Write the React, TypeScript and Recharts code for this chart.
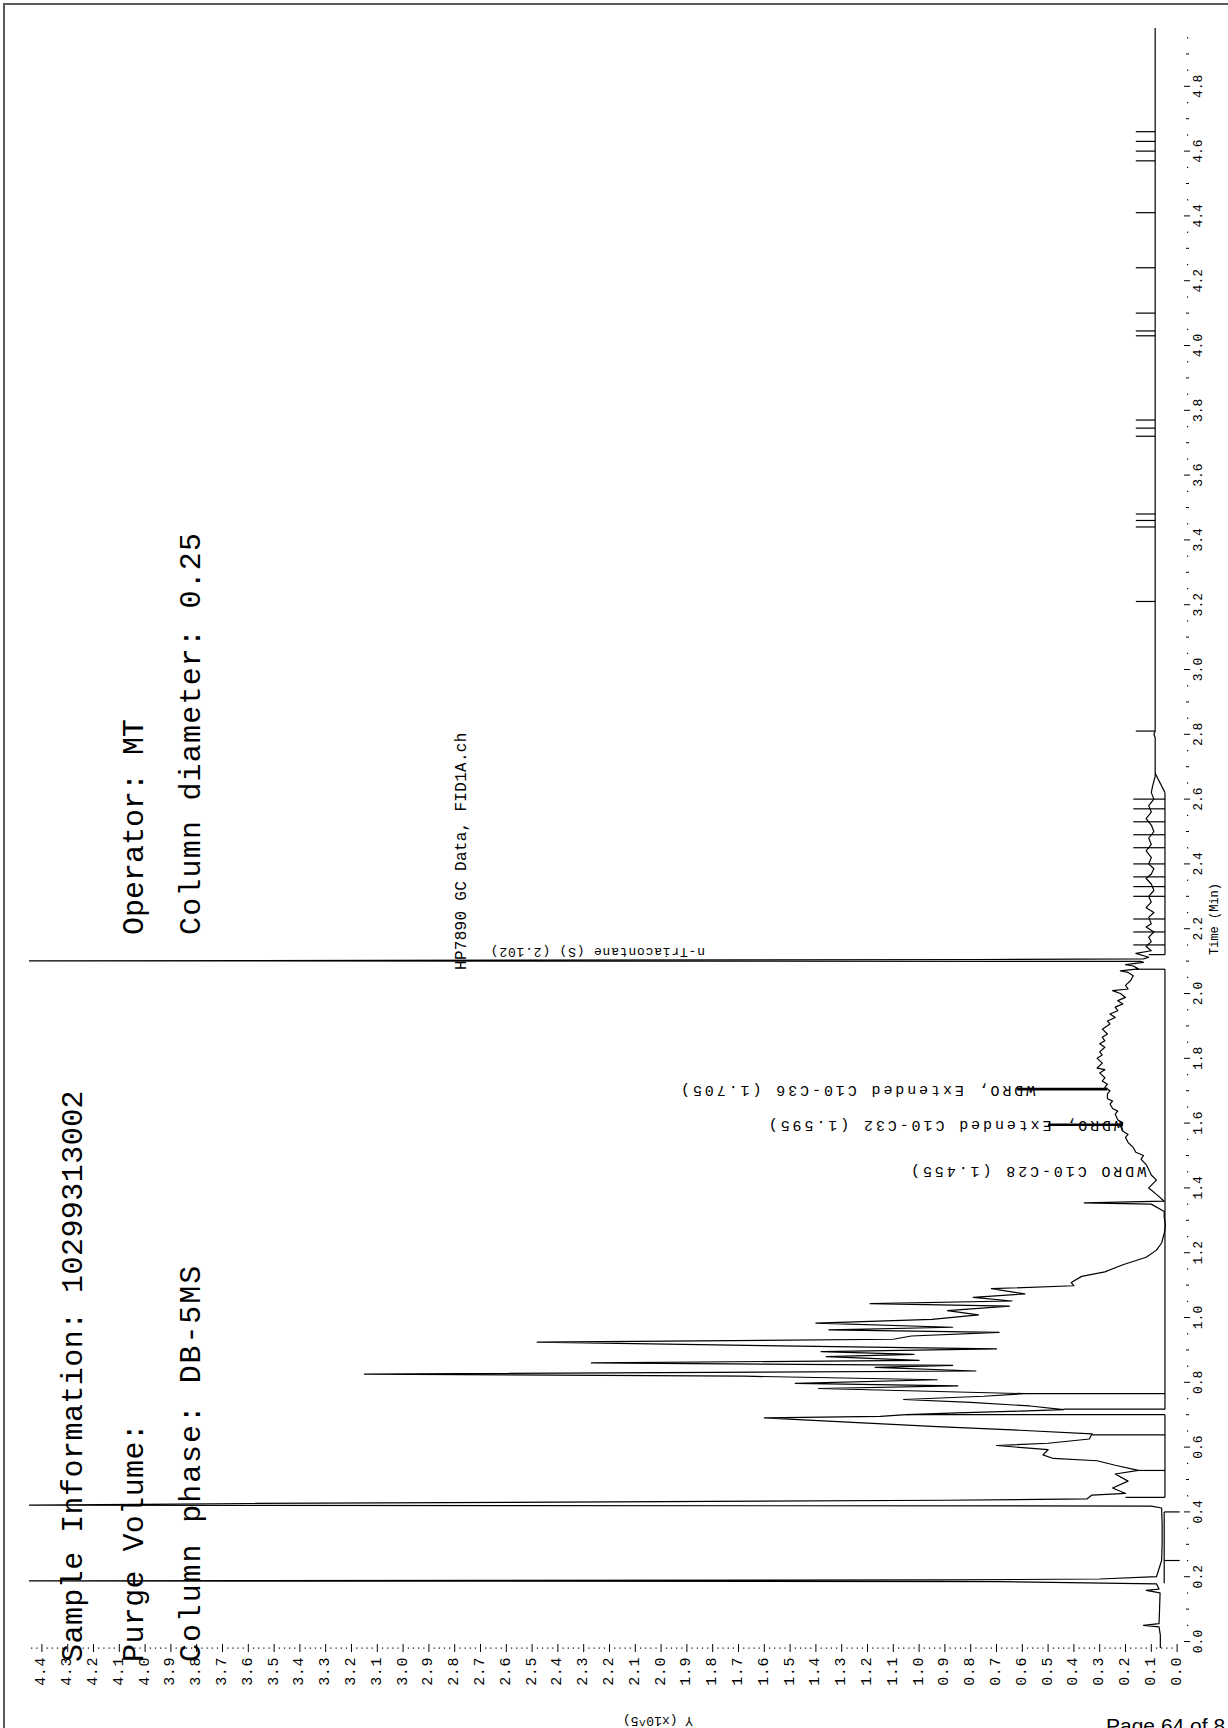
import React from 'react';
import { ScatterChart, Scatter, XAxis, YAxis, ReferenceLine, ReferenceDot } from 'recharts';

// [retention time (min), response (x10^5)], bottom to top
// off-scale peaks are given the top of the response range
const traceInjection: [number, number][] = [
  [-0.02, 0.065], [0.02, 0.065], [0.045, 0.07], [0.05, 0.13], [0.055, 0.07], [0.1, 0.068],
  [0.15, 0.066], [0.158, 0.12], [0.162, 0.07], [0.178, 0.08], [0.185, 0.7], [0.187, 4.5],
  [0.19, 0.9], [0.193, 0.3], [0.2, 0.08], [0.25, 0.06], [0.3, 0.058], [0.36, 0.058], [0.412, 0.06],
  [0.418, 0.1], [0.421, 4.5], [0.426, 3.6], [0.431, 2.2], [0.436, 0.9], [0.44, 0.35],
];

const traceEarlyCluster: [number, number][] = [
  [0.452, 0.33], [0.457, 0.2], [0.474, 0.25], [0.495, 0.19], [0.517, 0.24], [0.528, 0.15],
  [0.544, 0.24], [0.558, 0.31], [0.565, 0.48], [0.576, 0.52], [0.592, 0.5], [0.605, 0.7],
  [0.612, 0.5], [0.625, 0.34], [0.641, 0.33], [0.652, 0.61], [0.663, 0.93], [0.674, 1.2],
  [0.69, 1.6], [0.695, 1.15], [0.7, 1.05], [0.706, 0.85], [0.711, 0.61], [0.716, 0.44],
  [0.727, 0.57], [0.738, 0.8], [0.747, 1.06], [0.757, 0.75], [0.765, 0.59],
];

const traceMainCluster: [number, number][] = [
  [0.781, 1.39], [0.789, 0.85], [0.797, 1.48], [0.808, 0.93], [0.819, 1.68], [0.825, 3.15],
  [0.835, 0.78], [0.846, 1.17], [0.852, 0.87], [0.86, 2.27], [0.868, 1.0], [0.879, 1.36],
  [0.886, 1.02], [0.895, 1.38], [0.903, 0.7], [0.911, 1.4], [0.924, 2.48], [0.933, 1.1],
  [0.943, 1.03], [0.954, 0.69], [0.962, 1.35], [0.97, 0.87], [0.983, 1.4], [0.994, 0.95],
  [1.008, 0.77], [1.021, 0.89], [1.035, 0.65], [1.043, 1.19], [1.051, 0.64], [1.062, 0.79],
  [1.073, 0.59], [1.089, 0.72], [1.098, 0.4], [1.108, 0.41], [1.127, 0.37], [1.141, 0.28],
  [1.163, 0.21], [1.186, 0.12], [1.208, 0.08], [1.23, 0.06], [1.26, 0.05], [1.284, 0.045],
  [1.31, 0.05], [1.327, 0.05], [1.35, 0.1], [1.354, 0.36], [1.359, 0.05], [1.38, 0.08],
  [1.4, 0.11], [1.424, 0.08], [1.44, 0.1], [1.457, 0.11],
];

const traceHump: [number, number][] = [
  [1.472, 0.12], [1.489, 0.14], [1.5, 0.13], [1.51, 0.16], [1.525, 0.17], [1.54, 0.19],
  [1.556, 0.2], [1.565, 0.19], [1.575, 0.21], [1.592, 0.22], [1.6, 0.21], [1.61, 0.23],
  [1.628, 0.24], [1.637, 0.23], [1.645, 0.25], [1.659, 0.26], [1.668, 0.25], [1.675, 0.27],
  [1.69, 0.27], [1.7, 0.26], [1.71, 0.28], [1.72, 0.27], [1.73, 0.29], [1.74, 0.28],
  [1.755, 0.3], [1.765, 0.28], [1.77, 0.31], [1.785, 0.29], [1.8, 0.31], [1.81, 0.29],
  [1.82, 0.3], [1.834, 0.28], [1.845, 0.3], [1.854, 0.28], [1.865, 0.29], [1.875, 0.27],
  [1.89, 0.29], [1.906, 0.26], [1.915, 0.27], [1.926, 0.24], [1.937, 0.26], [1.947, 0.23],
  [1.958, 0.24], [1.968, 0.21], [1.978, 0.23], [1.988, 0.2], [2.0, 0.22], [2.009, 0.25],
  [2.014, 0.19], [2.025, 0.2], [2.04, 0.18], [2.055, 0.17], [2.065, 0.19], [2.07, 0.22],
  [2.076, 0.15], [2.085, 0.17], [2.089, 0.2], [2.096, 0.13], [2.099, 0.14], [2.101, 4.5],
  [2.104, 1.66], [2.105, 0.77], [2.107, 0.13],
];

const traceLate: [number, number][] = [
  [2.112, 0.11], [2.124, 0.16], [2.132, 0.1], [2.145, 0.12], [2.16, 0.1], [2.174, 0.11],
  [2.19, 0.09], [2.205, 0.12], [2.215, 0.1], [2.235, 0.11], [2.25, 0.09], [2.265, 0.12],
  [2.282, 0.1], [2.3, 0.11], [2.318, 0.09], [2.338, 0.1], [2.355, 0.12], [2.369, 0.1],
  [2.385, 0.09], [2.4, 0.11], [2.42, 0.1], [2.44, 0.12], [2.46, 0.1], [2.48, 0.11],
  [2.5, 0.09], [2.52, 0.1], [2.54, 0.12], [2.56, 0.1], [2.58, 0.11], [2.6, 0.09],
  [2.62, 0.1], [2.64, 0.095], [2.67, 0.085], [2.79, 0.085], [2.8, 0.09], [2.81, 0.085],
  [4.98, 0.085],
];

const timeLabels = ['0.0', '0.2', '0.4', '0.6', '0.8', '1.0', '1.2', '1.4', '1.6', '1.8', '2.0', '2.2',
  '2.4', '2.6', '2.8', '3.0', '3.2', '3.4', '3.6', '3.8', '4.0', '4.2', '4.4', '4.6', '4.8'];

const responseLabels = ['0.0', '0.1', '0.2', '0.3', '0.4', '0.5', '0.6', '0.7', '0.8', '0.9', '1.0',
  '1.1', '1.2', '1.3', '1.4', '1.5', '1.6', '1.7', '1.8', '1.9', '2.0', '2.1', '2.2', '2.3', '2.4',
  '2.5', '2.6', '2.7', '2.8', '2.9', '3.0', '3.1', '3.2', '3.3', '3.4', '3.5', '3.6', '3.7', '3.8',
  '3.9', '4.0', '4.1', '4.2', '4.3', '4.4'];

// integration baselines: [response, start time, end time]
const baselines: [number, number, number][] = [
  [0.05, 0.18, 0.4], [0.047, 0.445, 0.70], [0.047, 0.717, 2.075], [0.047, 2.12, 2.62],
];

// drop lines from a baseline to the signal: [time, from response, to response]
const dropLines: [number, number, number][] = [
  [0.4, 0.05, -0.01], [0.25, 0.05, -0.01],
  [0.445, 0.047, 0.2], [0.528, 0.047, 0.15], [0.638, 0.047, 0.33], [0.70, 0.047, 1.05],
  [0.717, 0.047, 0.44], [0.765, 0.047, 0.59], [2.075, 0.047, 0.16], [2.12, 0.047, 0.11],
];

// peak event marks: [time, from response, to response]
const eventMarks: [number, number, number][] = [
  [2.15, 0.047, 0.17], [2.19, 0.047, 0.17], [2.23, 0.047, 0.17], [2.3, 0.047, 0.17],
  [2.33, 0.047, 0.17], [2.36, 0.047, 0.17], [2.4, 0.047, 0.17], [2.45, 0.047, 0.17],
  [2.49, 0.047, 0.17], [2.53, 0.047, 0.17], [2.57, 0.047, 0.17], [2.6, 0.047, 0.17],
  [2.81, 0.085, 0.16], [3.21, 0.085, 0.16], [3.44, 0.085, 0.16], [3.46, 0.085, 0.16],
  [3.48, 0.085, 0.16], [3.72, 0.085, 0.16], [3.745, 0.085, 0.16], [3.77, 0.085, 0.16],
  [4.03, 0.085, 0.16], [4.045, 0.085, 0.16], [4.1, 0.085, 0.16], [4.24, 0.085, 0.16],
  [4.41, 0.085, 0.16], [4.57, 0.085, 0.16], [4.6, 0.085, 0.16], [4.63, 0.085, 0.16],
  [4.66, 0.085, 0.16],
];

const peakNames = ['WDRO C10-C28 (1.455)', 'WDRO, Extended C10-C32 (1.595)',
  'WDRO, Extended C10-C36 (1.705)'];
const peakTimes = [1.455, 1.595, 1.705];
const peakLabelAt = [0.12, 0.21, 0.55];
const peakTicks: [number, number, number][] = [[1.595, 0.21, 0.5], [1.705, 0.27, 0.62]];
const standardName = 'n-Triacontane (S)  (2.102)';
const standardTime = 2.102;
const standardLabelAt = 1.83;

const traceData = [...traceInjection, ...traceEarlyCluster, ...traceMainCluster, ...traceHump, ...traceLate]
  .map(([t, v]) => ({ t, v }));

const mono = '"Liberation Mono", "DejaVu Sans Mono", monospace';
const timeTicks = Array.from({ length: 100 }, (_, i) => +(i * 0.05).toFixed(2));
const responseTicks = Array.from({ length: 223 }, (_, i) => +(i * 0.02).toFixed(2));

const TimeTick = ({ x, y, payload }: any) => {
  const k = Math.round(payload.value * 20);
  if (k % 4 === 0) {
    const lx = x + 9;
    return (
      <g>
        <line x1={x - 6} x2={x} y1={y} y2={y} stroke="#000" />
        <text x={lx} y={y} transform={`rotate(-90 ${lx} ${y})`} textAnchor="middle"
          dominantBaseline="central" fontFamily={mono} fontSize={13} fill="#000">
          {timeLabels[k / 4]}
        </text>
      </g>
    );
  }
  if (k % 2 === 0) return <line x1={x - 4} x2={x - 1} y1={y} y2={y} stroke="#000" />;
  return <rect x={x - 3} y={y - 0.5} width={1.2} height={1.2} fill="#000" />;
};

const ResponseTick = ({ x, y, payload }: any) => {
  const k = Math.round(payload.value * 50);
  if (k % 5 === 0) {
    const ly = y + 9;
    return (
      <g>
        <line x1={x} x2={x} y1={y - 4} y2={y + 4} stroke="#000" />
        <text x={x} y={ly} transform={`rotate(-90 ${x} ${ly})`} textAnchor="end"
          dominantBaseline="central" fontFamily={mono} fontSize={15} letterSpacing={0.6} fill="#000">
          {responseLabels[k / 5]}
        </text>
      </g>
    );
  }
  return <rect x={x - 0.5} y={y - 0.5} width={1.2} height={1.2} fill="#000" />;
};

const FlippedLabel = ({ cx, cy, text, size, spacing }: any) => (
  <text x={cx} y={cy} transform={`rotate(180 ${cx} ${cy})`} textAnchor="start"
    dominantBaseline="central" fontFamily={mono} fontSize={size} letterSpacing={spacing} fill="#000">
    {text}
  </text>
);

const segStyle = { stroke: '#000', strokeWidth: 1.2 };

const rotText = (s: string, x: number, y: number, size: number, extra: any = {}) => (
  <text x={x} y={y} transform={`rotate(-90 ${x} ${y})`} fontFamily={mono} fontSize={size} fill="#000" {...extra}>
    {s}
  </text>
);

export default function App() {
  return (
    <div style={{ position: 'absolute', left: 0, top: 0, width: 1228, height: 1728, background: '#fff', overflow: 'hidden' }}>
      <div style={{ position: 'absolute', left: 3, top: 3, width: 1260, height: 1760, borderTop: '2px solid #5a5a5a', borderLeft: '2px solid #5a5a5a' }} />
      <div style={{ position: 'absolute', left: 0, top: 0 }}>
        <ScatterChart width={1228} height={1728} margin={{ top: 28, right: 0, bottom: 20, left: 29 }}>
          <XAxis type="number" dataKey="v" domain={[-0.05, 4.45]} reversed allowDataOverflow
            ticks={responseTicks} interval={0} tick={(p: any) => <ResponseTick {...p} />}
            axisLine={false} tickLine={false} tickSize={0} tickMargin={0} height={60} />
          <YAxis type="number" dataKey="t" domain={[-0.02, 4.98]} orientation="right" allowDataOverflow
            ticks={timeTicks} interval={0} tick={(p: any) => <TimeTick {...p} />}
            axisLine={false} tickLine={false} tickSize={0} tickMargin={0} width={38} />
          {baselines.map(([v, t0, t1], i) => (
            <ReferenceLine key={`b${i}`} segment={[{ x: v, y: t0 }, { x: v, y: t1 }]} {...segStyle} />
          ))}
          {dropLines.map(([t, a, b], i) => (
            <ReferenceLine key={`d${i}`} segment={[{ x: a, y: t }, { x: b, y: t }]} {...segStyle} />
          ))}
          {eventMarks.map(([t, a, b], i) => (
            <ReferenceLine key={`e${i}`} segment={[{ x: a, y: t }, { x: b, y: t }]} {...segStyle} />
          ))}
          <ReferenceLine segment={[{ x: 0.047, y: 2.62 }, { x: 0.085, y: 2.68 }]} {...segStyle} />
          {peakTicks.map(([t, a, b], i) => (
            <ReferenceLine key={`p${i}`} segment={[{ x: a, y: t }, { x: b, y: t }]} stroke="#000" strokeWidth={2.6} />
          ))}
          <Scatter data={traceData} isAnimationActive={false}
            line={{ stroke: '#000', strokeWidth: 1.2, strokeLinejoin: 'round' }}
            lineJointType="linear" shape={() => <g />} />
          {peakNames.map((name, i) => (
            <ReferenceDot key={`l${i}`} x={peakLabelAt[i]} y={peakTimes[i]} r={0}
              shape={(p: any) => <FlippedLabel cx={p.cx} cy={p.cy} text={name} size={15} spacing={2.9} />} />
          ))}
          <ReferenceDot x={standardLabelAt} y={standardTime} r={0}
            shape={(p: any) => <FlippedLabel cx={p.cx} cy={p.cy - 9} text={standardName} size={13} spacing={0.8} />} />
        </ScatterChart>
      </div>
      <svg width={1228} height={1728} style={{ position: 'absolute', left: 0, top: 0, pointerEvents: 'none' }}>
        {rotText('Sample Information: 10299313002', 82, 1662, 30, { letterSpacing: 0.45 })}
        {rotText('Purge Volume:', 143, 1662, 30, { letterSpacing: 0.4 })}
        {rotText('Column phase: DB-5MS', 200, 1662, 30, { letterSpacing: 1.9 })}
        {rotText('Operator: MT', 143, 935, 30, { letterSpacing: 0 })}
        {rotText('Column diameter: 0.25', 200, 935, 30, { letterSpacing: 1.2 })}
        {rotText('HP7890 GC Data, FID1A.ch', 466, 970, 16, { letterSpacing: 0.3 })}
        {rotText('Time (Min)', 1218, 919, 12, { textAnchor: 'middle' })}
        <text x={658} y={1720} transform="rotate(180 658 1720)" textAnchor="middle" dominantBaseline="central"
          fontFamily={mono} fontSize={13} fill="#000">Y (x10^5)</text>
        <text x={1106} y={1733} fontFamily='"Liberation Sans", Arial, sans-serif' fontSize={21} fill="#000">Page 64 of 8</text>
      </svg>
    </div>
  );
}
